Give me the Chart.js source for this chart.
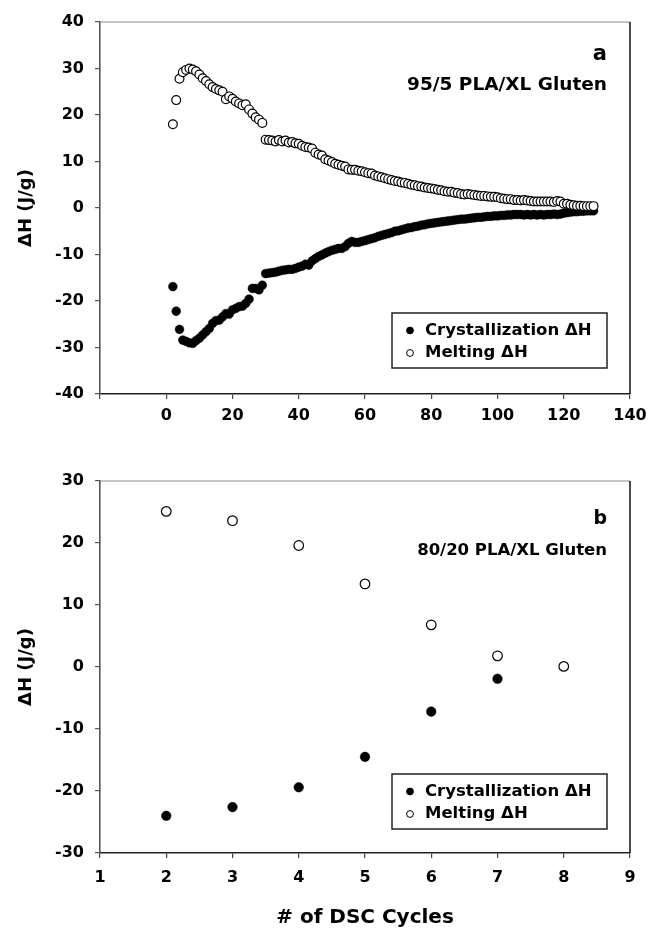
<!DOCTYPE html>
<html>
<head>
  <meta charset="utf-8">
  <title>DSC cycles - PLA/XL Gluten</title>
  <script src="https://cdn.jsdelivr.net/npm/chart.js"></script>
  <style>
    body { margin: 0; background: #fff; }
    canvas { display: block; }
  </style>
</head>
<body>
  <canvas id="chartA" width="648" height="464"></canvas>
  <canvas id="chartB" width="648" height="464"></canvas>

  <script>
    // panel a : 95/5 PLA/XL Gluten
    const cyclesA = [
      2, 3, 4, 5, 6, 7, 8, 9, 10, 11, 12, 13, 14, 15, 16, 17,
      18, 19, 20, 21, 22, 23, 24, 25, 26, 27, 28, 29, 30, 31, 32, 33,
      34, 35, 36, 37, 38, 39, 40, 41, 42, 43, 44, 45, 46, 47, 48, 49,
      50, 51, 52, 53, 54, 55, 56, 57, 58, 59, 60, 61, 62, 63, 64, 65,
      66, 67, 68, 69, 70, 71, 72, 73, 74, 75, 76, 77, 78, 79, 80, 81,
      82, 83, 84, 85, 86, 87, 88, 89, 90, 91, 92, 93, 94, 95, 96, 97,
      98, 99, 100, 101, 102, 103, 104, 105, 106, 107, 108, 109, 110, 111, 112, 113,
      114, 115, 116, 117, 118, 119, 120, 121, 122, 123, 124, 125, 126, 127, 128, 129
    ];
    const crystA = [
      -16.9, -22.2, -26.1, -28.4, -28.7, -29.0, -29.1, -28.5, -28.0, -27.3, -26.6, -25.9, -24.8, -24.2, -24.1, -23.4,
      -22.7, -22.8, -21.9, -21.6, -21.2, -21.1, -20.5, -19.6, -17.3, -17.3, -17.6, -16.6, -14.1, -14.0, -13.9, -13.8,
      -13.6, -13.4, -13.3, -13.2, -13.2, -13.0, -12.7, -12.5, -12.1, -12.3, -11.4, -10.9, -10.4, -10.1, -9.7, -9.4,
      -9.1, -8.9, -8.7, -8.7, -8.3, -7.6, -7.2, -7.4, -7.4, -7.2, -7.0, -6.8, -6.6, -6.4, -6.1, -5.9,
      -5.7, -5.5, -5.3, -5.0, -4.9, -4.7, -4.5, -4.3, -4.2, -4.0, -3.9, -3.7, -3.6, -3.4, -3.3, -3.2,
      -3.1, -3.0, -2.9, -2.8, -2.7, -2.6, -2.5, -2.4, -2.4, -2.3, -2.2, -2.1, -2.0, -2.0, -1.9, -1.8,
      -1.8, -1.7, -1.7, -1.6, -1.6, -1.5, -1.5, -1.4, -1.4, -1.4, -1.5, -1.4, -1.5, -1.4, -1.5, -1.4,
      -1.5, -1.4, -1.4, -1.3, -1.4, -1.3, -1.1, -1.0, -0.9, -0.8, -0.8, -0.7, -0.7, -0.6, -0.6, -0.6
    ];
    const meltA = [
      18.0, 23.2, 27.8, 29.2, 29.7, 30.0, 29.8, 29.4, 28.7, 27.9, 27.3, 26.6, 26.0, 25.6, 25.3, 25.0,
      23.4, 24.0, 23.5, 22.9, 22.5, 22.1, 22.3, 21.2, 20.3, 19.5, 19.0, 18.3, 14.7, 14.6, 14.5, 14.3,
      14.6, 14.3, 14.5, 14.1, 14.2, 13.9, 13.8, 13.4, 13.1, 13.0, 12.8, 11.9, 11.5, 11.3, 10.5, 10.2,
      9.9, 9.5, 9.3, 9.1, 8.9, 8.3, 8.2, 8.2, 8.0, 7.9, 7.7, 7.5, 7.4, 7.0, 6.8, 6.6,
      6.4, 6.2, 6.0, 5.8, 5.7, 5.5, 5.4, 5.2, 5.0, 4.9, 4.7, 4.6, 4.4, 4.3, 4.2, 4.1,
      3.9, 3.8, 3.6, 3.5, 3.5, 3.3, 3.2, 3.0, 2.9, 3.0, 2.9, 2.8, 2.7, 2.6, 2.6, 2.5,
      2.4, 2.4, 2.3, 2.1, 2.0, 1.9, 1.9, 1.7, 1.7, 1.6, 1.7, 1.6, 1.5, 1.4, 1.4, 1.4,
      1.4, 1.4, 1.4, 1.3, 1.5, 1.4, 0.9, 0.9, 0.7, 0.6, 0.5, 0.5, 0.4, 0.4, 0.4, 0.4
    ];

    // panel b : 80/20 PLA/XL Gluten
    const cyclesB = [2, 3, 4, 5, 6, 7, 8];
    const crystB = [-24.0, -22.6, -19.4, -14.5, -7.2, -1.9, null];
    const meltB = [25.1, 23.6, 19.6, 13.4, 6.8, 1.8, 0.1];

    const FONT = "'DejaVu Sans', 'Liberation Sans', sans-serif";
    Chart.defaults.font.family = FONT;
    Chart.defaults.font.weight = 'bold';
    Chart.defaults.color = '#000';

    function toPoints(xs, ys) {
      return xs.map((x, i) => ({ x: x, y: ys[i] }));
    }

    // frame, panel letter/label and the boxed legend
    const panelDeco = {
      id: 'panelDeco',
      afterDraw(chart, args, opts) {
        const { ctx, chartArea: ca } = chart;
        ctx.save();
        ctx.strokeStyle = '#8c8c8c';
        ctx.lineWidth = 1.2;
        ctx.beginPath();
        ctx.moveTo(ca.left, ca.top);
        ctx.lineTo(ca.right, ca.top);
        ctx.stroke();
        ctx.strokeStyle = '#111';
        ctx.lineWidth = 1.5;
        ctx.beginPath();
        ctx.moveTo(ca.right, ca.top);
        ctx.lineTo(ca.right, ca.bottom);
        ctx.stroke();

        const rx = ca.right - 23;
        ctx.fillStyle = '#000';
        ctx.textAlign = 'right';
        ctx.textBaseline = 'middle';
        ctx.font = `bold ${opts.letterSize}px ${FONT}`;
        ctx.fillText(opts.letter, rx, ca.top + opts.letterY);
        ctx.font = `bold ${opts.labelSize}px ${FONT}`;
        ctx.fillText(opts.label, rx, ca.top + opts.labelY);

        const w = 215, h = 55;
        const bx = rx - w, by = ca.bottom - opts.legendGap - h;
        ctx.fillStyle = '#fff';
        ctx.fillRect(bx, by, w, h);
        ctx.strokeStyle = '#222';
        ctx.lineWidth = 1.5;
        ctx.strokeRect(bx, by, w, h);
        chart.data.datasets.forEach((ds, i) => {
          const y = by + 17.5 + i * 22.5;
          ctx.beginPath();
          ctx.arc(bx + 18, y, 3.4, 0, Math.PI * 2);
          ctx.fillStyle = ds.backgroundColor;
          ctx.fill();
          ctx.lineWidth = 1;
          ctx.strokeStyle = '#000';
          ctx.stroke();
          ctx.fillStyle = '#000';
          ctx.textAlign = 'left';
          ctx.font = `bold 16.5px ${FONT}`;
          ctx.fillText(ds.label, bx + 33, y);
        });
        ctx.restore();
      }
    };

    function makeChart(id, cfg) {
      const ctx = document.getElementById(id).getContext('2d');
      return new Chart(ctx, {
        type: 'scatter',
        data: {
          datasets: [
            {
              label: 'Crystallization \u0394H',
              data: toPoints(cfg.x, cfg.cryst),
              backgroundColor: '#000',
              borderColor: '#000',
              borderWidth: 0.5,
              pointRadius: cfg.radius,
              order: 1
            },
            {
              label: 'Melting \u0394H',
              data: toPoints(cfg.x, cfg.melt),
              backgroundColor: '#fff',
              borderColor: '#000',
              borderWidth: 1.2,
              pointRadius: cfg.radius,
              order: 0
            }
          ]
        },
        options: {
          responsive: false,
          animation: false,
          events: [],
          layout: { padding: { top: cfg.top, right: 18, left: 0, bottom: 0 } },
          plugins: {
            legend: { display: false },
            tooltip: { enabled: false },
            panelDeco: cfg.deco
          },
          scales: {
            x: {
              type: 'linear',
              min: cfg.xMin, max: cfg.xMax,
              afterFit: s => { s.height = cfg.xHeight; s.paddingLeft = 0; s.paddingRight = 0; },
              grid: { drawOnChartArea: false, color: '#444', lineWidth: 1.2, tickLength: 5 },
              border: { display: true, color: '#222', width: 1.6 },
              ticks: {
                stepSize: cfg.xStep,
                padding: cfg.xPad,
                maxRotation: 0,
                font: { size: 16, weight: 'bold' },
                callback: v => (v < 0 ? '' : v)
              },
              title: {
                display: cfg.showXTitle,
                text: '# of DSC Cycles',
                font: { size: 20, weight: 'bold', lineHeight: 1 },
                padding: { top: 0, bottom: 0 }
              }
            },
            y: {
              min: cfg.yMin, max: cfg.yMax,
              afterFit: s => { s.width = 100; s.paddingTop = 0; s.paddingBottom = 0; },
              grid: { drawOnChartArea: false, color: '#555', lineWidth: 1.2, tickLength: 5 },
              border: { display: true, color: '#555', width: 1.6 },
              ticks: {
                stepSize: 10,
                padding: 11,
                font: { size: 16, weight: 'bold' }
              },
              title: {
                display: true,
                text: '\u0394H (J/g)',
                font: { size: 18, weight: 'bold' },
                padding: { top: 16, bottom: 0 }
              }
            }
          }
        },
        plugins: [panelDeco]
      });
    }

    makeChart('chartA', {
      x: cyclesA, cryst: crystA, melt: meltA,
      radius: 4.4,
      top: 22, xHeight: 70, xPad: 7,
      xMin: -20, xMax: 140, xStep: 20,
      yMin: -40, yMax: 40,
      showXTitle: false,
      deco: { letter: 'a', letterSize: 21, letterY: 33, label: '95/5 PLA/XL Gluten', labelSize: 18.5, labelY: 63, legendGap: 26 }
    });

    makeChart('chartB', {
      x: cyclesB, cryst: crystB, melt: meltB,
      radius: 4.8,
      top: 17, xHeight: 75, xPad: 10,
      xMin: 1, xMax: 9, xStep: 1,
      yMin: -30, yMax: 30,
      showXTitle: true,
      deco: { letter: 'b', letterSize: 19, letterY: 38, label: '80/20 PLA/XL Gluten', labelSize: 16.5, labelY: 70, legendGap: 24 }
    });
  </script>
</body>
</html>
